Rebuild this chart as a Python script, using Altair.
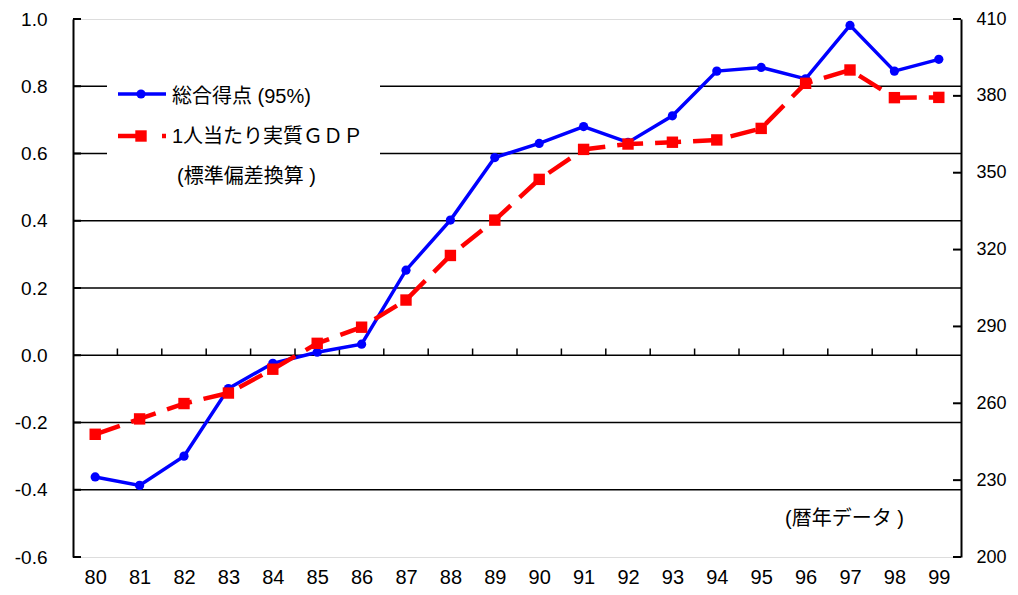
import altair as alt
import pandas as pd

years = list(range(80, 100))
score = [-0.362, -0.387, -0.300, -0.099, -0.024, 0.009, 0.033, 0.253, 0.402, 0.588,
         0.630, 0.680, 0.633, 0.712, 0.845, 0.856, 0.822, 0.981, 0.845, 0.880]
gdp = [247.9, 253.9, 259.9, 264.0, 273.3, 283.4, 289.7, 300.3, 317.7, 331.5,
       347.4, 359.1, 361.2, 361.9, 362.8, 367.3, 384.9, 390.1, 379.3, 379.4]
left_ticks = [-0.6, -0.4, -0.2, 0.0, 0.2, 0.4, 0.6, 0.8, 1.0]
grid_vals = [-0.4, -0.2, 0.0, 0.2, 0.4, 0.6, 0.8]
right_ticks = [200, 230, 260, 290, 320, 350, 380, 410]
cat_bounds = [y + 0.5 for y in years[:-1]]

series1 = "総合得点 (95%)"
series2a = "1人当たり実質ＧＤＰ"
series2b = "(標準偏差換算 )"
note = "(暦年データ )"

LAT = '"Liberation Sans", Arial, sans-serif'
JP = '"Liberation Sans", "Noto Sans CJK JP", sans-serif'

df = pd.DataFrame({"year": years, "score": score, "gdp": gdp})
one = alt.Data(values=[{}])

xscale = alt.Scale(domain=[79.5, 99.5], nice=False, zero=False)
xaxis = alt.Axis(values=years, format="d", title=None, grid=False, ticks=False,
                 domain=False, labelFontSize=20, labelFont=LAT, labelColor="black",
                 labelPadding=10)
lscale = alt.Scale(domain=[-0.6, 1.0], nice=False, zero=False)
laxis = alt.Axis(values=left_ticks, title=None, grid=False, ticks=False,
                 labelExpr="datum.value < 0 ? '-' + format(-datum.value, '.1f') : format(datum.value, '.1f')",
                 domainColor="black", domainWidth=2, labelFontSize=19, labelFont=LAT,
                 labelColor="black", labelPadding=26, minExtent=60, maxExtent=60)
rscale = alt.Scale(domain=[200, 410], nice=False, zero=False)
raxis = alt.Axis(values=right_ticks, format="d", title=None, grid=False, ticks=False,
                 orient="right", domainColor="black", domainWidth=2, labelFontSize=18,
                 labelFont=LAT, labelColor="black", labelPadding=15,
                 minExtent=44, maxExtent=44)

X = alt.X("year:Q", scale=xscale, axis=xaxis)

grid = alt.Chart(pd.DataFrame({"v": grid_vals})).mark_rule(color="black", strokeWidth=1.5).encode(
    y=alt.Y("v:Q", scale=lscale, axis=laxis))

lticks = alt.Chart(pd.DataFrame({"v": left_ticks})).mark_rule(color="black", strokeWidth=2).encode(
    y=alt.Y("v:Q", scale=lscale, axis=laxis),
    x=alt.X(datum=79.5, scale=xscale, axis=xaxis), x2=alt.X2(datum=79.68))

cticks = alt.Chart(pd.DataFrame({"b": cat_bounds})).mark_rule(color="black", strokeWidth=1.5).encode(
    x=alt.X("b:Q", scale=xscale, axis=xaxis),
    y=alt.Y(datum=0, scale=lscale, axis=laxis), y2=alt.Y2(datum=0.02))

legend_box = alt.Chart(one).mark_rect(color="white").encode(
    x=alt.value(34), x2=alt.value(307), y=alt.value(53), y2=alt.value(173))

blue = alt.Chart(df).mark_line(color="#0000FF", strokeWidth=3.5).encode(
    x=X, y=alt.Y("score:Q", scale=lscale, axis=laxis))
blue_pts = alt.Chart(df).mark_circle(color="#0000FF", size=85, opacity=1).encode(
    x=X, y=alt.Y("score:Q", scale=lscale, axis=laxis))

leg_blue_line = alt.Chart(one).mark_rule(color="#0000FF", strokeWidth=3.5).encode(
    x=alt.value(45), x2=alt.value(93), y=alt.value(75))
leg_blue_pt = alt.Chart(one).mark_circle(color="#0000FF", size=85, opacity=1).encode(
    x=alt.value(68), y=alt.value(75))
leg_red_line = alt.Chart(one).mark_rule(color="#FF0000", strokeWidth=4.5, strokeDash=[27, 17]).encode(
    x=alt.value(45), x2=alt.value(93), y=alt.value(117))
leg_red_pt = alt.Chart(one).mark_square(color="#FF0000", size=130, opacity=1).encode(
    x=alt.value(68), y=alt.value(117))

def label(txt, x, y):
    return alt.Chart(one).mark_text(text=txt, align="left", baseline="middle", fontSize=20,
                                    font=JP, color="black").encode(x=alt.value(x), y=alt.value(y))

t1 = label(series1, 99, 78)
t2 = label(series2a, 99, 118)
t3 = label(series2b, 104, 158)
t4 = label(note, 712, 500)

left_group = alt.layer(grid, lticks, cticks, legend_box, blue, blue_pts,
                       leg_blue_line, leg_blue_pt, leg_red_line, leg_red_pt, t1, t2, t3, t4)

red = alt.Chart(df).mark_line(color="#FF0000", strokeWidth=4.5, strokeDash=[26, 12]).encode(
    x=X, y=alt.Y("gdp:Q", scale=rscale, axis=raxis))
red_pts = alt.Chart(df).mark_square(color="#FF0000", size=130, opacity=1).encode(
    x=X, y=alt.Y("gdp:Q", scale=rscale, axis=raxis))
rticks = alt.Chart(pd.DataFrame({"v": right_ticks})).mark_rule(color="black", strokeWidth=2).encode(
    y=alt.Y("v:Q", scale=rscale, axis=raxis),
    x=alt.X(datum=99.32, scale=xscale, axis=xaxis), x2=alt.X2(datum=99.5))

right_group = alt.layer(red, red_pts, rticks)

chart = alt.layer(left_group, right_group).resolve_scale(y="independent").properties(
    width=1002, height=579,
    autosize=alt.AutoSizeParams(type="fit", contains="padding"),
    padding={"left": 5, "top": 2, "right": 3, "bottom": 0}
).configure_view(stroke="#808080", strokeWidth=1.5).configure(background="white")

chart.save("out.html", embed_options={"renderer": "svg", "actions": False})
